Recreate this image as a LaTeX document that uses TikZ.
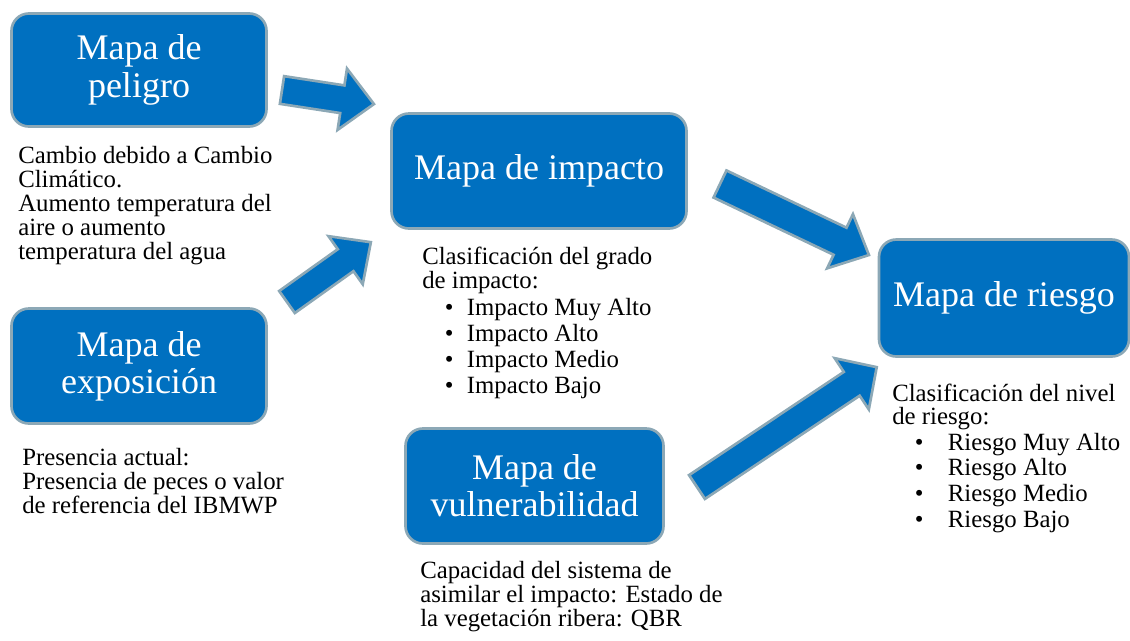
\documentclass[tikz,border=0pt]{standalone}
\usepackage{fontspec}
\setmainfont{Liberation Serif}
\definecolor{boxblue}{RGB}{0,112,192}
\definecolor{boxedge}{RGB}{140,168,182}
\tikzset{
  mapbox/.style={rounded corners=13pt, fill=boxblue, draw=boxedge, line width=2pt,
    text=white, align=center, font=\fontsize{27}{28}\selectfont, inner sep=0pt},
  txt/.style={anchor=base west, inner sep=0pt},
  arrowst/.style={fill=boxblue, draw=boxedge, line width=2pt, line join=miter},
}
% text block: #1 = line spacing, #2 = rows
\newcommand\tlines[2]{\fontsize{18.6}{#1}\selectfont\begin{tabular}[t]{@{}l@{}}#2\end{tabular}}
\newcommand\bul[2]{\makebox[#1][l]{•}#2}
\newcommand\blockarrow[8]{% name, x, y, angle, length, shaft, head, headlen
  \begin{scope}[shift={(#2,#3)}, rotate=#4]
    \coordinate (#1-tail) at (0,0);
    \coordinate (#1-tip) at (#5,0);
    \draw[arrowst] (0,-#6/2) -- (#5-#8,-#6/2) -- (#5-#8,-#7/2) -- (#1-tip)
      -- (#5-#8,#7/2) -- (#5-#8,#6/2) -- (0,#6/2) -- cycle;
  \end{scope}}
\begin{document}
\begin{tikzpicture}[x=0.75pt,y=-0.75pt]
\useasboundingbox (0,0) rectangle (1130,640);
% boxes
\node[mapbox, minimum width={255*0.75pt}, minimum height={113*0.75pt}] (peligro) at (139,70) {Mapa de\\peligro};
\node[mapbox, minimum width={255*0.75pt}, minimum height={115*0.75pt}] (expo) at (139,366) {Mapa de\\exposición};
\node[mapbox, minimum width={295*0.75pt}, minimum height={115*0.75pt}] (impacto) at (539,171) {Mapa de impacto};
\node[mapbox, minimum width={258*0.75pt}, minimum height={115*0.75pt}] (vuln) at (534.5,486) {Mapa de\\vulnerabilidad};
\node[mapbox, minimum width={250*0.75pt}, minimum height={117*0.75pt}] (riesgo) at (1004,298) {Mapa de riesgo};
% arrows
\blockarrow{a1}{282}{90}{-8.7}{93}{28}{62}{32}
\blockarrow{a2}{287}{302}{35.5}{103}{27}{59}{31}
\blockarrow{a3}{720}{184}{-25.5}{165}{30}{60}{32}
\blockarrow{a4}{697}{487}{33.7}{216}{28.6}{61.6}{30}
% texts
\node[txt] (ptext) at (18,163) {\tlines{17.8pt}{Cambio debido a Cambio\\Climático.\\Aumento temperatura del\\aire o aumento\\temperatura del agua}};
\node[txt] (etext) at (22,465) {\tlines{17.6pt}{Presencia actual:\\Presencia de peces o valor\\de referencia del IBMWP}};
\node[txt] (itext) at (422,264) {\tlines{19.5pt}{Clasificación del grado\\[-1.5pt]
  de impacto:\\[0.75pt]
  \hspace{17pt}\bul{16.5pt}{Impacto Muy Alto}\\
  \hspace{17pt}\bul{16.5pt}{Impacto Alto}\\
  \hspace{17pt}\bul{16.5pt}{Impacto Medio}\\
  \hspace{17pt}\bul{16.5pt}{Impacto Bajo}}};
\node[txt] (vtext) at (420,578) {\tlines{17.6pt}{Capacidad del sistema de\\asimilar el impacto: Estado de\\la vegetación ribera: QBR}};
\node[txt] (rtext) at (892,401) {\tlines{19.3pt}{Clasificación del nivel\\[-2pt]
  de riesgo:\\[0.2pt]
  \hspace{17pt}\bul{24.75pt}{Riesgo Muy Alto}\\
  \hspace{17pt}\bul{24.75pt}{Riesgo Alto}\\
  \hspace{17pt}\bul{24.75pt}{Riesgo Medio}\\
  \hspace{17pt}\bul{24.75pt}{Riesgo Bajo}}};
\end{tikzpicture}
\end{document}
